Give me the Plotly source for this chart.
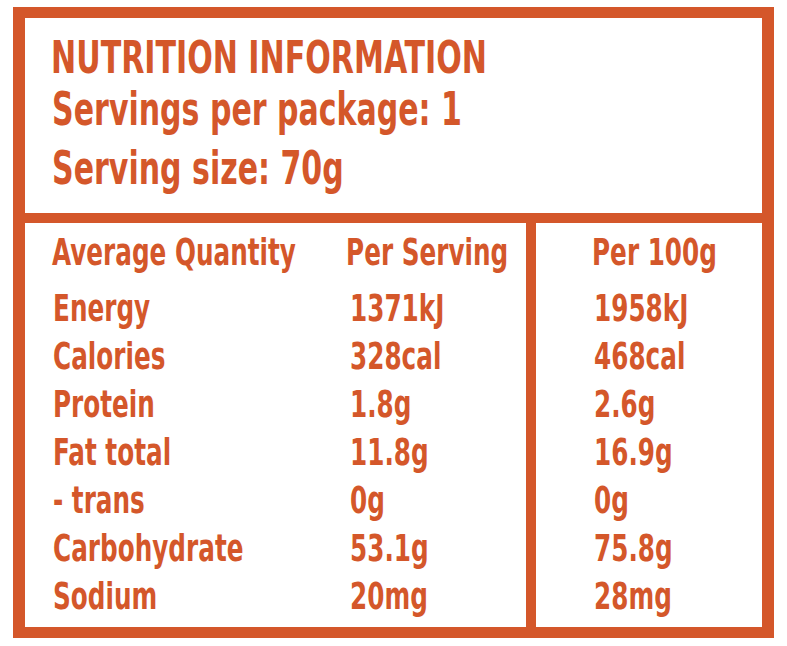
import plotly.graph_objects as go

# ---- data ----
title_text = "NUTRITION INFORMATION"
servings_per_package = "1"
serving_size = "70g"
col_headers = ["Average Quantity", "Per Serving", "Per 100g"]
nutrients = ["Energy", "Calories", "Protein", "Fat total", "- trans", "Carbohydrate", "Sodium"]
per_serving = ["1371kJ", "328cal", "1.8g", "11.8g", "0g", "53.1g", "20mg"]
per_100g = ["1958kJ", "468cal", "2.6g", "16.9g", "0g", "75.8g", "28mg"]

# ---- style ----
W, H = 787, 646
ORANGE = "#D4572A"
FONT = "Noto Sans ExtraCondensed, Noto Sans Condensed, DejaVu Sans Condensed, sans-serif"
TITLE_SIZE, SUB_SIZE, BODY_SIZE = 45, 46, 38

fig = go.Figure()
fig.add_trace(go.Scatter(x=[0, W], y=[0, H], mode="markers", marker=dict(opacity=0),
                         hoverinfo="skip", showlegend=False))

shapes = [
    dict(type="rect", x0=13, x1=774, y0=7, y1=638, fillcolor=ORANGE, line=dict(width=0), layer="below"),
    dict(type="rect", x0=25, x1=762, y0=18, y1=213, fillcolor="white", line=dict(width=0), layer="below"),
    dict(type="rect", x0=25, x1=526, y0=223, y1=627, fillcolor="white", line=dict(width=0), layer="below"),
    dict(type="rect", x0=536, x1=762, y0=223, y1=627, fillcolor="white", line=dict(width=0), layer="below"),
]
for s in shapes:
    s.update(xref="x", yref="y")

ann = []
def txt(x, y, t, size):
    ann.append(dict(x=x, y=y, xref="x", yref="y", text="<b>%s</b>" % t, showarrow=False,
                    xanchor="left", yanchor="middle", borderpad=0,
                    font=dict(family=FONT, size=size, color=ORANGE)))

txt(50, 57.5, title_text, TITLE_SIZE)
txt(51, 109, "Servings per package: " + servings_per_package, SUB_SIZE)
txt(51, 167.5, "Serving size: " + serving_size, SUB_SIZE)

col_x = [51, 345, 591]
for cx, h in zip(col_x, col_headers):
    txt(cx, 252, h, BODY_SIZE)

val_x = [52, 349, 593]
for i, (n, a, b) in enumerate(zip(nutrients, per_serving, per_100g)):
    y = 308 + 48 * i
    txt(val_x[0], y, n, BODY_SIZE)
    txt(val_x[1], y, a, BODY_SIZE)
    txt(val_x[2], y, b, BODY_SIZE)

fig.update_layout(
    width=W, height=H, margin=dict(l=0, r=0, t=0, b=0),
    paper_bgcolor="white", plot_bgcolor="white",
    xaxis=dict(range=[0, W], visible=False, fixedrange=True),
    yaxis=dict(range=[H, 0], visible=False, fixedrange=True),
    shapes=shapes, annotations=ann, showlegend=False,
)

# condense the lettering horizontally to match the condensed typeface of the label
post = """
document.body.style.margin = '0';
var gd = document.getElementById('{plot_id}');
var texts = Array.prototype.slice.call(gd.querySelectorAll('text.annotation-text'));
var targets = {'NUTRITION INFORMATION': 436, 'Servings per package: 1': 410, 'Average Quantity': 244};
var factorBySize = {};
texts.forEach(function(t){
  var c = t.textContent;
  if (targets[c]) {
    factorBySize[t.style.fontSize] = targets[c] / t.getBBox().width;
  }
});
texts.forEach(function(t){
  var f = factorBySize[t.style.fontSize] || 0.8;
  t.style.transformBox = 'fill-box';
  t.style.transformOrigin = '0% 50%';
  t.style.transform = 'scaleX(' + f + ')';
});
"""
fig.write_html("out.html", config={"displayModeBar": False}, post_script=post)
